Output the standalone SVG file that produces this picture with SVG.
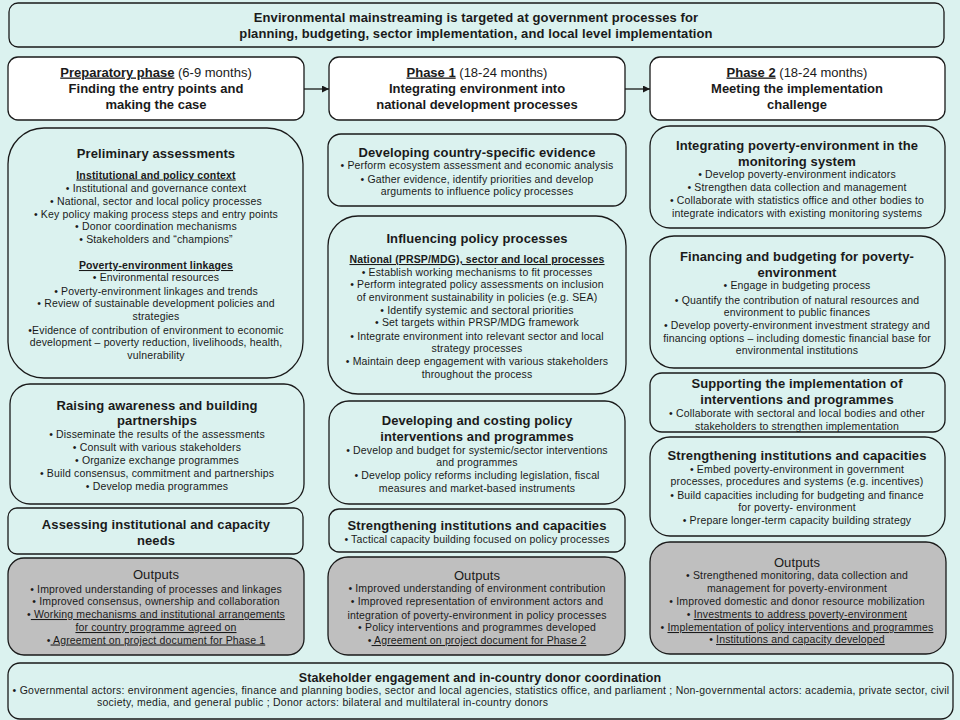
<svg xmlns="http://www.w3.org/2000/svg" width="960" height="720" viewBox="0 0 960 720">
<defs>
<style>
.box{fill:#dbf2ef;stroke:#1a1a1a;stroke-width:1.3}
.wht{fill:#ffffff;stroke:#1a1a1a;stroke-width:1.3}
.gry{fill:#bfbfbf;stroke:#1a1a1a;stroke-width:1.3}
text{font-family:"Liberation Sans",Arial,sans-serif;fill:#1a1a1a;text-anchor:middle}
.t{font-size:13px;font-weight:bold;letter-spacing:0.1px}
.p{font-size:13px;font-weight:bold}
.pn{font-weight:normal}
.b{font-size:10.5px;letter-spacing:0.15px}
.h{font-size:10.5px;font-weight:bold;text-decoration:underline;letter-spacing:0.15px}
.u{text-decoration:underline}
.o{font-size:13px;font-weight:normal;letter-spacing:0.1px}
.con{stroke:#1a1a1a;stroke-width:1.3;fill:none}
</style>
<marker id="arr" viewBox="0 0 10 10" refX="10" refY="5" markerWidth="7" markerHeight="7" markerUnits="userSpaceOnUse" orient="auto">
<path d="M0,0 L10,5 L0,10 z" fill="#1a1a1a"/>
</marker>
</defs>
<rect x="0" y="0" width="960" height="720" fill="#dbf2ef"/>

<g id="top">
<rect class="box" x="9" y="3" width="935" height="44" rx="9"/>
<text class="t" x="476" y="21.5">Environmental mainstreaming is targeted at government processes for</text>
<text class="t" x="476" y="37.5">planning, budgeting, sector implementation, and local level implementation</text>
</g>

<g id="prep">
<rect class="wht" x="8" y="57" width="296" height="63" rx="10"/>
<text class="p" x="156" y="76.5"><tspan class="u">Preparatory phase</tspan><tspan class="pn"> (6-9 months)</tspan></text>
<text class="p" x="156" y="92.5">Finding the entry points and</text>
<text class="p" x="156" y="108.5">making the case</text>
</g>

<g id="phase1">
<rect class="wht" x="329" y="57" width="296" height="63" rx="10"/>
<text class="p" x="477" y="76.5"><tspan class="u">Phase 1</tspan><tspan class="pn"> (18-24 months)</tspan></text>
<text class="p" x="477" y="92.5">Integrating environment into</text>
<text class="p" x="477" y="108.5">national development processes</text>
</g>

<g id="phase2">
<rect class="wht" x="650" y="57" width="295" height="63" rx="10"/>
<text class="p" x="797" y="76.5"><tspan class="u">Phase 2</tspan><tspan class="pn"> (18-24 months)</tspan></text>
<text class="p" x="797" y="92.5">Meeting the implementation</text>
<text class="p" x="797" y="108.5">challenge</text>
</g>

<g id="connectors">
<line class="con" x1="304" y1="89" x2="329" y2="89" marker-end="url(#arr)"/>
<line class="con" x1="625" y1="89" x2="650" y2="89" marker-end="url(#arr)"/>
</g>

<g id="prelim">
<rect class="box" x="8" y="128" width="295" height="250" rx="36"/>
<text class="t" x="156" y="157.5">Preliminary assessments</text>
<text class="h" x="156" y="178.5">Institutional and policy context</text>
<text class="b" x="156" y="191.5">• Institutional and governance context</text>
<text class="b" x="156" y="204.5">•  National, sector and local policy processes</text>
<text class="b" x="156" y="217.5">• Key policy making process steps and entry points</text>
<text class="b" x="156" y="230">• Donor coordination mechanisms</text>
<text class="b" x="156" y="242.5">• Stakeholders and “champions”</text>
<text class="h" x="156" y="269">Poverty-environment linkages</text>
<text class="b" x="156" y="281">• Environmental resources</text>
<text class="b" x="156" y="294.5">• Poverty-environment linkages and trends</text>
<text class="b" x="156" y="306.5">• Review of sustainable development policies and</text>
<text class="b" x="156" y="320">strategies</text>
<text class="b" x="156" y="333.5">•Evidence of contribution of environment to economic</text>
<text class="b" x="156" y="346">development – poverty reduction, livelihoods, health,</text>
<text class="b" x="156" y="358.5">vulnerability</text>
</g>

<g id="raising">
<rect class="box" x="10" y="384" width="294" height="120" rx="20"/>
<text class="t" x="157" y="409.5">Raising awareness and building</text>
<text class="t" x="157" y="425">partnerships</text>
<text class="b" x="157" y="438">• Disseminate the results of the assessments</text>
<text class="b" x="157" y="450.5">• Consult with various stakeholders</text>
<text class="b" x="157" y="463.8">• Organize exchange programmes</text>
<text class="b" x="157" y="476.8">• Build consensus, commitment and partnerships</text>
<text class="b" x="157" y="490">•  Develop media programmes</text>
</g>

<g id="assessing">
<rect class="box" x="8" y="508" width="295" height="46" rx="9"/>
<text class="t" x="156" y="529">Assessing institutional and capacity</text>
<text class="t" x="156" y="544.5">needs</text>
</g>

<g id="outputs1">
<rect class="gry" x="8" y="558" width="296" height="97" rx="16"/>
<text class="o" x="156" y="578.5">Outputs</text>
<text class="b" x="156" y="592.5">• Improved understanding of processes and linkages</text>
<text class="b" x="156" y="604.8">• Improved consensus, ownership and collaboration</text>
<text class="b" x="156" y="618">•<tspan class="u"> Working mechanisms and institutional arrangements</tspan></text>
<text class="b" x="156" y="631"><tspan class="u">for country programme agreed on</tspan></text>
<text class="b" x="156" y="643.5">•<tspan class="u"> Agreement on project document for Phase 1</tspan></text>
</g>

<g id="evidence">
<rect class="box" x="328" y="134" width="298" height="72" rx="13"/>
<text class="t" x="477" y="157">Developing country-specific  evidence</text>
<text class="b" x="477" y="169.2">• Perform ecosystem assessment and economic analysis</text>
<text class="b" x="477" y="182.5">• Gather evidence, identify priorities and develop</text>
<text class="b" x="477" y="195">arguments to influence policy processes</text>
</g>

<g id="influencing">
<rect class="box" x="328" y="216" width="298" height="178" rx="30"/>
<text class="t" x="477" y="243">Influencing policy processes</text>
<text class="h" x="477" y="263">National (PRSP/MDG), sector and local processes</text>
<text class="b" x="477" y="276">• Establish working mechanisms to fit processes</text>
<text class="b" x="477" y="288">• Perform integrated policy assessments on inclusion</text>
<text class="b" x="477" y="300.5">of environment sustainability in policies (e.g. SEA)</text>
<text class="b" x="477" y="314">• Identify systemic and sectoral priorities</text>
<text class="b" x="477" y="326">• Set targets within PRSP/MDG framework</text>
<text class="b" x="477" y="339.5">• Integrate environment into relevant sector and local</text>
<text class="b" x="477" y="352">strategy processes</text>
<text class="b" x="477" y="365">• Maintain deep engagement with various stakeholders</text>
<text class="b" x="477" y="377.5">throughout the process</text>
</g>

<g id="costing">
<rect class="box" x="329" y="401" width="296" height="103" rx="20"/>
<text class="t" x="477" y="424.5">Developing and costing policy</text>
<text class="t" x="477" y="440.5">interventions and programmes</text>
<text class="b" x="477" y="453.5">• Develop and budget for systemic/sector interventions</text>
<text class="b" x="477" y="466">and programmes</text>
<text class="b" x="477" y="479">• Develop policy reforms including legislation, fiscal</text>
<text class="b" x="477" y="492">measures and market-based instruments</text>
</g>

<g id="strength1">
<rect class="box" x="329" y="509" width="296" height="43" rx="10"/>
<text class="t" x="477" y="529.5">Strengthening institutions and capacities</text>
<text class="b" x="477" y="542.5">• Tactical capacity building focused on policy processes</text>
</g>

<g id="outputs2">
<rect class="gry" x="328" y="557" width="297" height="98" rx="20"/>
<text class="o" x="477" y="579.5">Outputs</text>
<text class="b" x="477" y="592">• Improved understanding of environment contribution</text>
<text class="b" x="477" y="605">• Improved representation of environment actors and</text>
<text class="b" x="477" y="618.5">integration of poverty-environment in policy processes</text>
<text class="b" x="477" y="631">• Policy interventions and programmes developed</text>
<text class="b" x="477" y="644">•<tspan class="u"> Agreement on project document for Phase 2</tspan></text>
</g>

<g id="monitoring">
<rect class="box" x="650" y="126" width="295" height="102" rx="20"/>
<text class="t" x="797" y="149.5">Integrating poverty-environment  in the</text>
<text class="t" x="797" y="166">monitoring system</text>
<text class="b" x="797" y="177.8">• Develop poverty-environment indicators</text>
<text class="b" x="797" y="190.5">• Strengthen data collection and management</text>
<text class="b" x="797" y="203.8">• Collaborate with statistics office and other bodies to</text>
<text class="b" x="797" y="216.8">integrate indicators with existing monitoring systems</text>
</g>

<g id="financing">
<rect class="box" x="650" y="236" width="295" height="132" rx="24"/>
<text class="t" x="797" y="261">Financing and budgeting for poverty-</text>
<text class="t" x="797" y="277">environment</text>
<text class="b" x="797" y="289">• Engage in budgeting process</text>
<text class="b" x="797" y="303.5">• Quantify the contribution of natural resources and</text>
<text class="b" x="797" y="315.8">environment to public finances</text>
<text class="b" x="797" y="329">• Develop poverty-environment investment strategy and</text>
<text class="b" x="797" y="341.8">financing options – including domestic financial base for</text>
<text class="b" x="797" y="354">environmental institutions</text>
</g>

<g id="supporting">
<rect class="box" x="650" y="373" width="295" height="59" rx="12"/>
<text class="t" x="797" y="387.8">Supporting the implementation of</text>
<text class="t" x="797" y="403.5">interventions and programmes</text>
<text class="b" x="797" y="416.8">• Collaborate with sectoral and local bodies and other</text>
<text class="b" x="797" y="429.5">stakeholders to strengthen implementation</text>
</g>

<g id="strength2">
<rect class="box" x="650" y="437" width="295" height="99" rx="20"/>
<text class="t" x="797" y="459.5">Strengthening institutions and capacities</text>
<text class="b" x="797" y="472.5">• Embed poverty-environment in government</text>
<text class="b" x="797" y="485">processes, procedures and systems (e.g. incentives)</text>
<text class="b" x="797" y="498.5">• Build capacities including for budgeting and finance</text>
<text class="b" x="797" y="511">for poverty- environment</text>
<text class="b" x="797" y="524">• Prepare longer-term capacity building strategy</text>
</g>

<g id="outputs3">
<rect class="gry" x="650" y="542" width="296" height="112" rx="20"/>
<text class="o" x="797" y="567">Outputs</text>
<text class="b" x="797" y="579">• Strengthened monitoring, data collection and</text>
<text class="b" x="797" y="592">management for poverty-environment</text>
<text class="b" x="797" y="604.5">• Improved domestic and donor resource mobilization</text>
<text class="b" x="797" y="618">• <tspan class="u">Investments to address poverty-environment</tspan></text>
<text class="b" x="797" y="631">• <tspan class="u">Implementation of policy interventions and programmes</tspan></text>
<text class="b" x="797" y="643">• <tspan class="u">Institutions and capacity developed</tspan></text>
</g>

<g id="stakeholder">
<rect class="box" x="8" y="663" width="945" height="56" rx="12"/>
<text class="t" x="480" y="681.5" style="font-size:12.5px">Stakeholder engagement and in-country  donor coordination</text>
<text class="b" x="481" y="694" style="letter-spacing:0.23px">• Governmental actors: environment agencies, finance and planning bodies, sector and local agencies, statistics office, and parliament ;  Non-governmental actors: academia, private sector, civil</text>
<text class="b" x="97" y="705.5" style="text-anchor:start;letter-spacing:0.25px">society, media, and general public ;  Donor actors: bilateral and multilateral in-country donors</text>
</g>
</svg>
